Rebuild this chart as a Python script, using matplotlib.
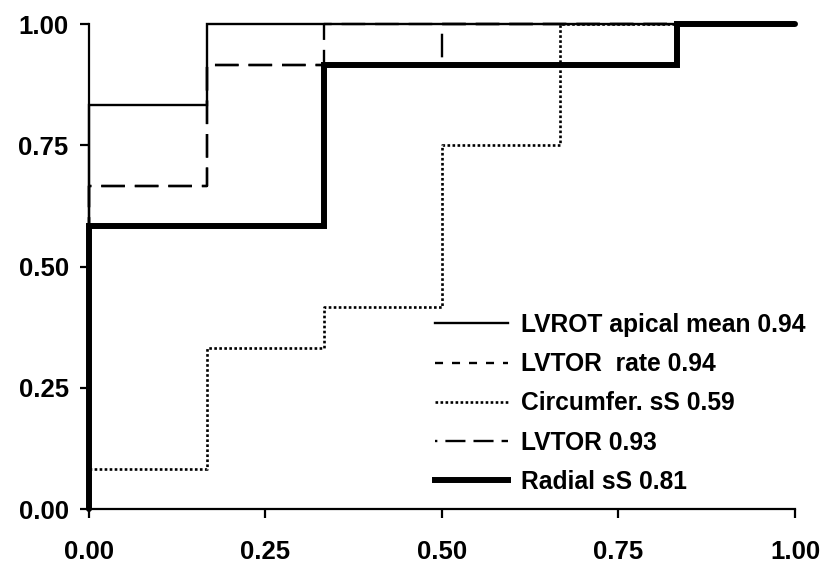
import matplotlib
matplotlib.use("Agg")
import matplotlib.pyplot as plt
from matplotlib.lines import Line2D

plt.rcParams['font.family'] = ['Liberation Sans', 'DejaVu Sans']

labels = ["LVROT apical mean 0.94", "LVTOR  rate 0.94", "Circumfer. sS 0.59", "LVTOR 0.93", "Radial sS 0.81"]

lvrot_x = [0, 0, 0.167, 0.167, 1.0]
lvrot_y = [0, 0.833, 0.833, 1.0, 1.0]

lvtor_rate_x = [0, 0, 0.167, 0.167, 0.5, 0.5, 1.0]
lvtor_rate_y = [0, 0.667, 0.667, 0.917, 0.917, 1.0, 1.0]

circ_x = [0, 0, 0.167, 0.167, 0.333, 0.333, 0.5, 0.5, 0.667, 0.667, 1.0]
circ_y = [0, 0.083, 0.083, 0.333, 0.333, 0.417, 0.417, 0.75, 0.75, 1.0, 1.0]

lvtor_x = [0, 0, 0.167, 0.167, 0.333, 0.333, 1.0]
lvtor_y = [0, 0.667, 0.667, 0.917, 0.917, 1.0, 1.0]

radial_x = [0, 0, 0.333, 0.333, 0.833, 0.833, 1.0]
radial_y = [0, 0.583, 0.583, 0.917, 0.917, 1.0, 1.0]

ticks = [0.0, 0.25, 0.5, 0.75, 1.0]
tick_labels = ["0.00", "0.25", "0.50", "0.75", "1.00"]

fig = plt.figure(figsize=(8.23, 5.65), dpi=100)
ax = fig.add_axes([0.108, 0.099, 0.858, 0.858])

LW = 1.7
long_dash = (0, (10, 4.2))
ax.plot(lvrot_x, lvrot_y, color='black', lw=LW, ls='-', clip_on=False, solid_joinstyle='miter')
ax.plot(lvtor_rate_x, lvtor_rate_y, color='black', lw=LW, ls=long_dash, clip_on=False)
ax.plot(circ_x, circ_y, color='black', lw=1.9, ls=(0, (1, 0.9)), clip_on=False)
ax.plot(lvtor_x, lvtor_y, color='black', lw=LW, ls=long_dash, clip_on=False)
ax.plot(radial_x, radial_y, color='black', lw=4.3, ls='-', clip_on=False, solid_joinstyle='miter', solid_capstyle='round')

ax.set_xlim(0, 1)
ax.set_ylim(0, 1)
ax.set_xticks(ticks)
ax.set_xticklabels(tick_labels)
ax.set_yticks(ticks)
ax.set_yticklabels(tick_labels)
for s in ['top', 'right']:
    ax.spines[s].set_visible(False)
for s in ['left', 'bottom']:
    ax.spines[s].set_linewidth(1.6)
ax.tick_params(direction='out', length=6.5, width=1.6, labelsize=18.5)
ax.tick_params(axis='y', pad=8)
ax.tick_params(axis='x', pad=16)
for t in ax.get_xticklabels() + ax.get_yticklabels():
    t.set_fontweight('bold')

handles = [
    Line2D([], [], color='black', lw=LW, ls='-'),
    Line2D([], [], color='black', lw=LW, ls=(0, (3.4, 3.8))),
    Line2D([], [], color='black', lw=1.9, ls=(0, (1, 0.9))),
    Line2D([], [], color='black', lw=LW, ls=(7.5, (8.5, 3.4))),
    Line2D([], [], color='black', lw=4.3, ls='-'),
]
leg = fig.legend(handles, labels, loc='upper left', bbox_to_anchor=(0.5286, 0.446),
                 frameon=False, handlelength=2.95, handletextpad=0.55, labelspacing=0.62,
                 prop={'weight': 'bold', 'size': 17.7}, borderaxespad=0, borderpad=0)

fig.savefig("out.png", dpi=100)
